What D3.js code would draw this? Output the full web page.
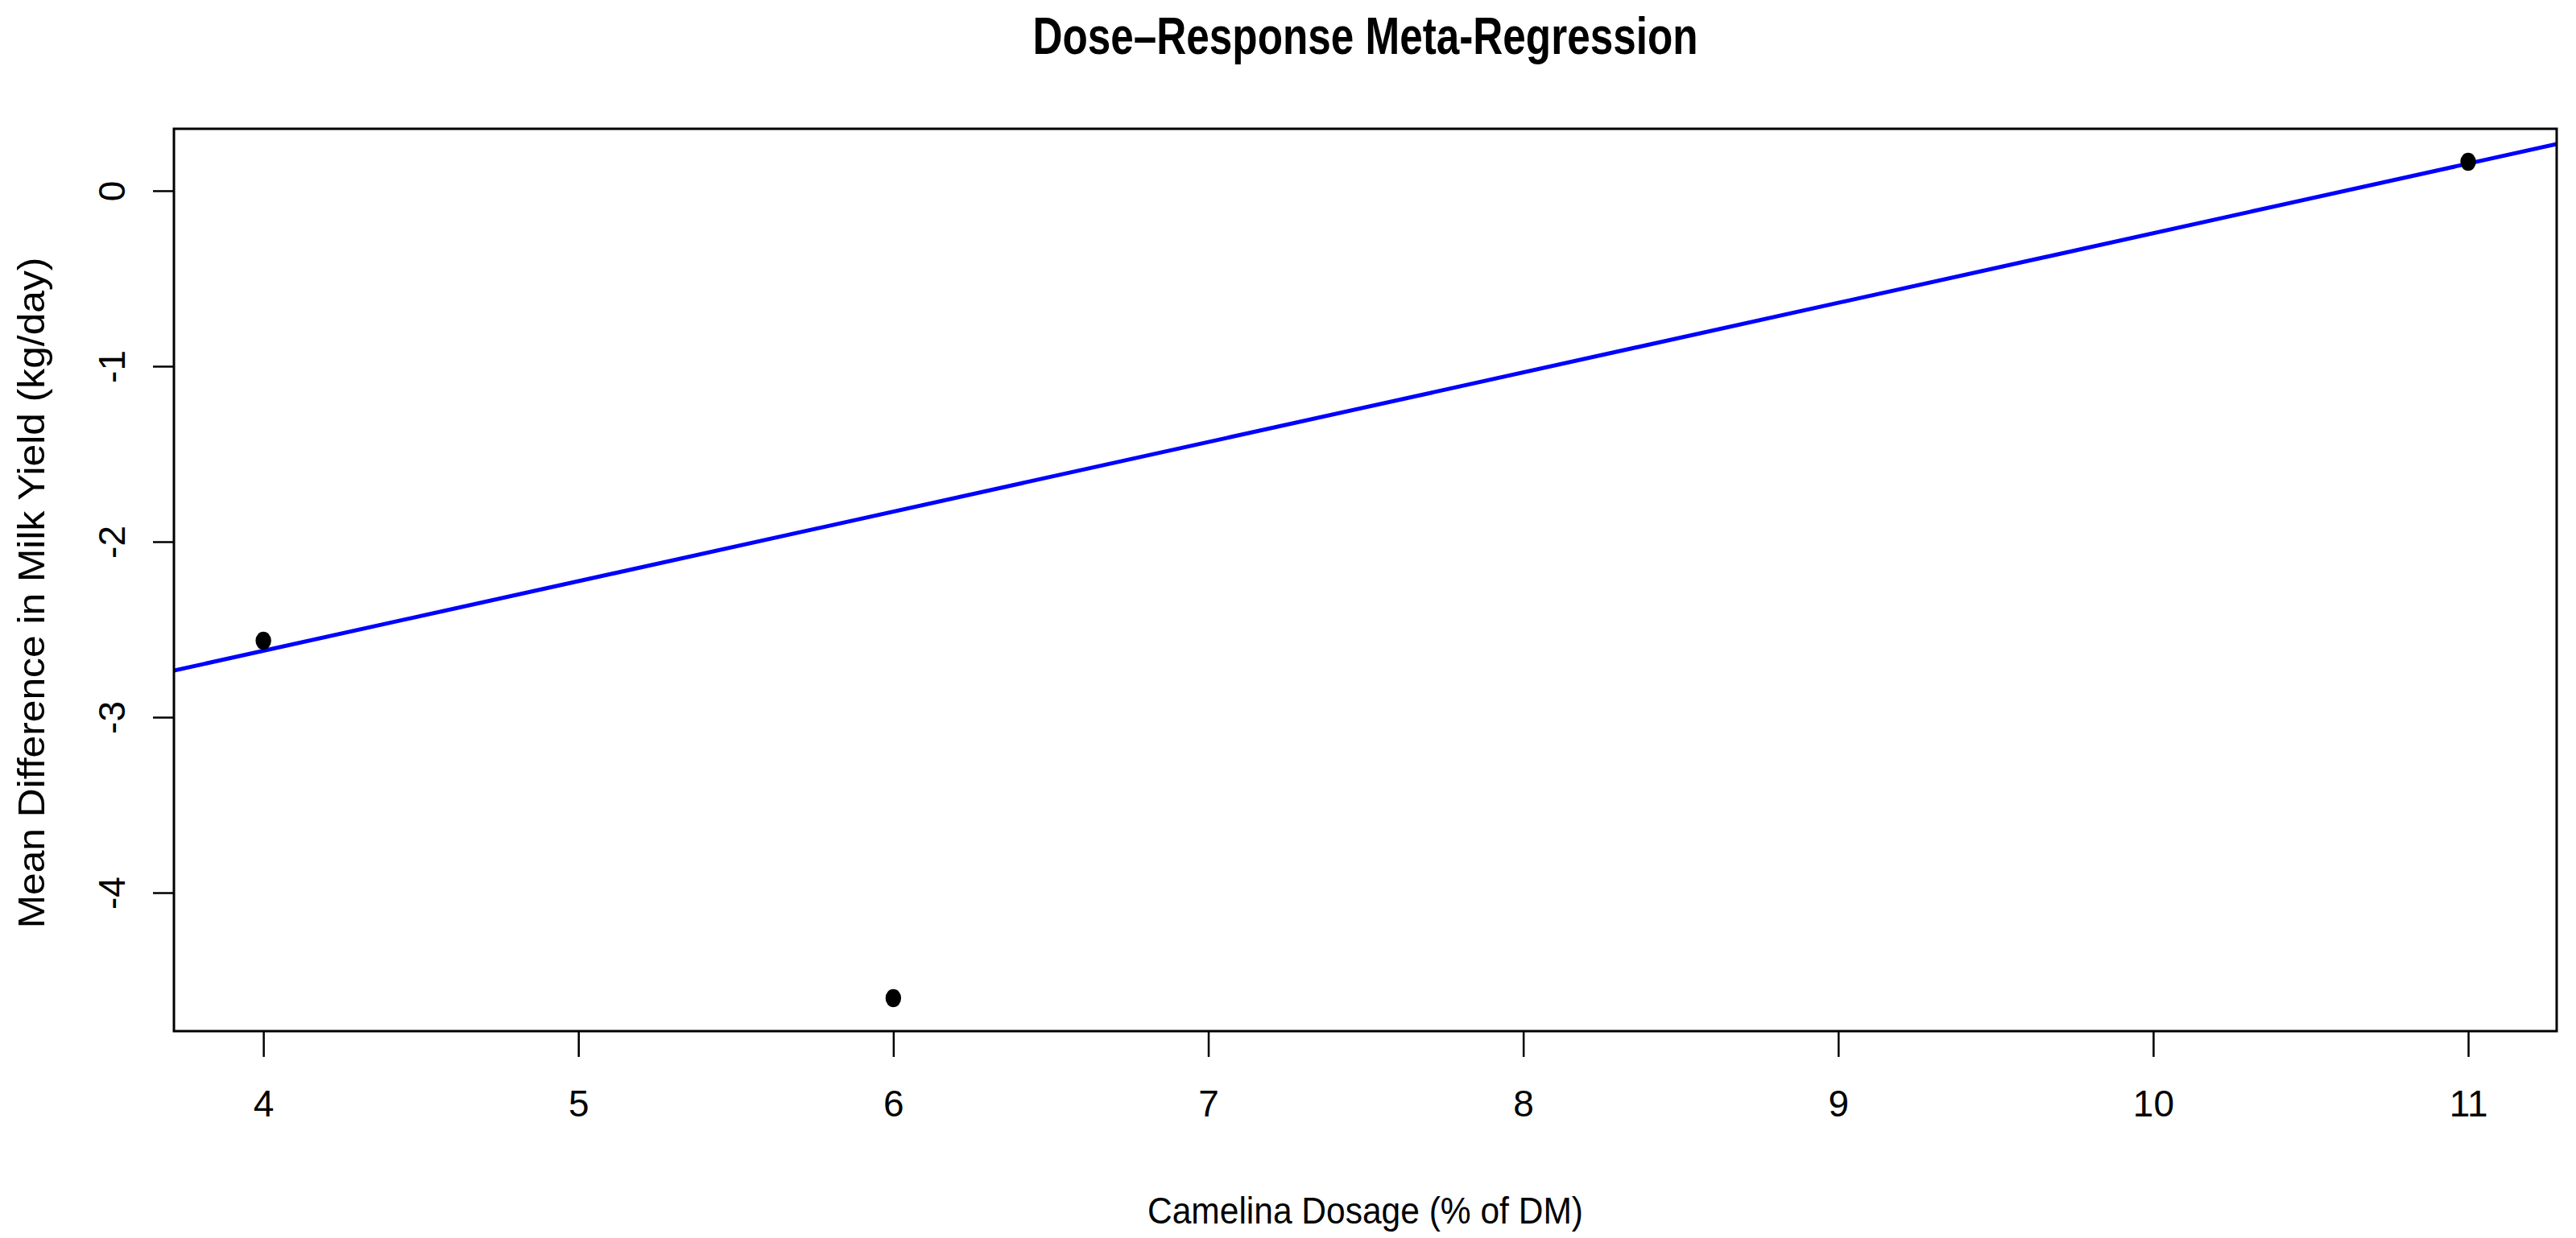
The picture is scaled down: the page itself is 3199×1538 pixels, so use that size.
<!DOCTYPE html>
<html>
<head>
<meta charset="utf-8">
<script src="https://cdn.jsdelivr.net/npm/d3@7"></script>
<style>
  html, body { margin: 0; padding: 0; background: #fff; }
  svg { display: block; }
  text { font-family: "Liberation Sans", Arial, sans-serif; fill: #000; }
</style>
</head>
<body>
<script>
// ---- data ----
const dose = [4, 6, 11];                 // Camelina dosage (% of DM)
const meanDiff = [-2.564, -4.601, 0.165]; // Mean difference in milk yield (kg/day)
const xTicks = [4, 5, 6, 7, 8, 9, 10, 11];
const yTicks = [-4, -3, -2, -1, 0];
const fitIntercept = -4.208;
const fitSlope = 0.3966;
const titleText = "Dose\u2013Response Meta-Regression";
const xTitle = "Camelina Dosage (% of DM)";
const yTitle = "Mean Difference in Milk Yield (kg/day)";

// ---- layout ----
const W = 3199, H = 1538;
const plot = { left: 216, right: 3175, top: 160, bottom: 1281 };

const svg = d3.select("body").append("svg").attr("width", W).attr("height", H);

const x = d3.scaleLinear().domain([3.716, 11.281]).range([plot.left, plot.right]);
const y = d3.scaleLinear().domain([-4.789, 0.353]).range([plot.bottom, plot.top]);

// clip
svg.append("defs").append("clipPath").attr("id", "clip")
  .append("rect").attr("x", plot.left).attr("y", plot.top)
  .attr("width", plot.right - plot.left).attr("height", plot.bottom - plot.top);

// regression line
const xd = x.domain();
svg.append("line")
  .attr("clip-path", "url(#clip)")
  .attr("x1", x(xd[0])).attr("y1", y(fitIntercept + fitSlope * xd[0]))
  .attr("x2", x(xd[1])).attr("y2", y(fitIntercept + fitSlope * xd[1]))
  .attr("stroke", "#0000ff").attr("stroke-width", 5);

// points
svg.selectAll("ellipse.pt").data(dose).enter().append("ellipse")
  .attr("class", "pt")
  .attr("cx", (d) => x(d))
  .attr("cy", (d, i) => y(meanDiff[i]))
  .attr("rx", 9.7).attr("ry", 11.3)
  .attr("fill", "#000");

// box
svg.append("rect")
  .attr("x", plot.left).attr("y", plot.top)
  .attr("width", plot.right - plot.left).attr("height", plot.bottom - plot.top)
  .attr("fill", "none").attr("stroke", "#000").attr("stroke-width", 3);

const fmt = (d) => String(d); // plain hyphen-minus like the reference

// x axis
const xAxis = d3.axisBottom(x).tickValues(xTicks).tickSize(32).tickPadding(10).tickFormat(fmt);
const gx = svg.append("g").attr("transform", `translate(0,${plot.bottom})`).call(xAxis);
gx.select(".domain").remove();
gx.selectAll(".tick line").attr("stroke", "#000").attr("stroke-width", 2.5);
gx.selectAll(".tick text")
  .attr("font-size", 46).attr("dy", null).attr("y", 106)
  .style("font-family", "'Liberation Sans', Arial, sans-serif").attr("fill", "#000");

// y axis
const yAxis = d3.axisLeft(y).tickValues(yTicks).tickSize(26).tickFormat(fmt);
const gy = svg.append("g").attr("transform", `translate(${plot.left},0)`).call(yAxis);
gy.select(".domain").remove();
gy.selectAll(".tick line").attr("stroke", "#000").attr("stroke-width", 2.5);
gy.selectAll(".tick text")
  .attr("x", null).attr("dy", null)
  .attr("text-anchor", "middle")
  .attr("transform", "translate(-61,0) rotate(-90)")
  .attr("font-size", 46)
  .style("font-family", "'Liberation Sans', Arial, sans-serif").attr("fill", "#000");

// title
svg.append("text")
  .attr("x", (plot.left + plot.right) / 2).attr("y", 67)
  .attr("text-anchor", "middle")
  .attr("font-size", 65).attr("font-weight", "bold")
  .attr("textLength", 826).attr("lengthAdjust", "spacingAndGlyphs")
  .text(titleText);

// x title
svg.append("text")
  .attr("x", (plot.left + plot.right) / 2).attr("y", 1520)
  .attr("text-anchor", "middle")
  .attr("font-size", 47)
  .attr("textLength", 541).attr("lengthAdjust", "spacingAndGlyphs")
  .text(xTitle);

// y title
const yt = svg.append("text")
  .attr("transform", `translate(55,${(plot.top + plot.bottom) / 2 + 16}) rotate(-90)`)
  .attr("text-anchor", "middle")
  .attr("font-size", 47)
  .text(yTitle);
const ytLen = yt.node().getComputedTextLength();
yt.attr("textLength", ytLen * 1.058).attr("lengthAdjust", "spacingAndGlyphs");
</script>
</body>
</html>
